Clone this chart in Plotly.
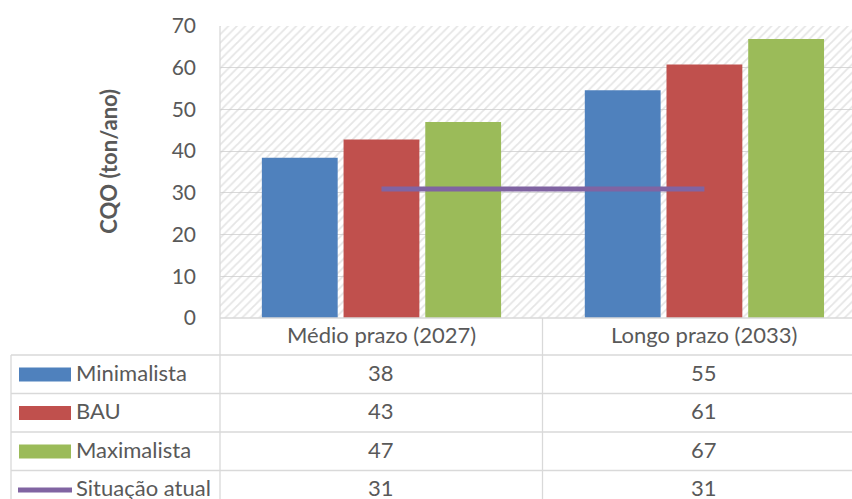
import plotly.graph_objects as go

# ---- data ----
categories = ["Médio prazo (2027)", "Longo prazo (2033)"]
minimalista = [38.4, 54.6]
bau = [42.8, 60.8]
maximalista = [47.0, 66.9]
situacao_atual = [30.9, 30.9]
series_names = ["Minimalista", "BAU", "Maximalista", "Situação atual"]
y_ticks = [0, 10, 20, 30, 40, 50, 60, 70]

colors = ["#4F81BD", "#C0504D", "#9BBB59", "#8064A2"]
TXT = "#595959"
GRID = "#D9D9D9"
FONT = "Lato"
FS = 21
FS_T = 22

W, H = 852, 499
L, R, T, B = 220, 0, 26, 181
PX0, PX1 = L, W - R
PY0, PY1 = T, H - B  # top, bottom of plot area


def px(x):
    return (x - PX0) / (PX1 - PX0)


def py(y):
    return (PY1 - y) / (PY1 - PY0)


fig = go.Figure()

# hatched plot-area background (base subplot)
fig.add_trace(go.Bar(
    x=[0.5], y=[1], width=[1], xaxis="x", yaxis="y",
    marker=dict(color="rgba(0,0,0,0)", line=dict(width=0),
                pattern=dict(shape="/", size=6, solidity=0.3,
                             fgcolor="#CCCCCC", bgcolor="rgba(0,0,0,0)")),
    hoverinfo="skip", showlegend=False,
))

values = [minimalista, bau, maximalista]
for name, vals, col in zip(series_names[:3], values, colors[:3]):
    fig.add_trace(go.Bar(x=categories, y=vals, name=name, xaxis="x2", yaxis="y2",
                         marker=dict(color=col, line=dict(width=0)), showlegend=False))

fig.add_trace(go.Scatter(x=categories, y=situacao_atual, name=series_names[3],
                         xaxis="x2", yaxis="y2", mode="lines",
                         line=dict(color=colors[3], width=5), showlegend=False))

# ---- data table (annotations from data) ----
ann = []
header_y = 335
row_y0, row_h = 374.5, 38.5
TXT_SHIFT = -2.5
for c in categories:
    ann.append(dict(x=c, xref="x2", y=py(header_y), yref="paper", text=c,
                    xanchor="center", yanchor="middle",
                    showarrow=False, font=dict(family=FONT, size=FS_T, color=TXT)))
all_series = [minimalista, bau, maximalista, situacao_atual]
for i, (name, vals) in enumerate(zip(series_names, all_series)):
    ry = row_y0 + row_h * i
    for c, v in zip(categories, vals):
        ann.append(dict(x=c, xref="x2", y=py(ry + TXT_SHIFT), yref="paper", text=f"{v:.0f}",
                        xanchor="center", yanchor="middle",
                        showarrow=False, font=dict(family=FONT, size=FS_T, color=TXT)))
    ann.append(dict(x=px(74), xref="paper", xanchor="left", y=py(ry + TXT_SHIFT), yref="paper",
                    yanchor="middle", text=name, showarrow=False,
                    font=dict(family=FONT, size=FS_T, color=TXT)))

ann.append(dict(x=px(109), xref="paper", y=py(161.7), yref="paper",
                xanchor="center", yanchor="middle",
                text="<b>CQO (ton/ano)</b>", textangle=-90, showarrow=False,
                font=dict(family=FONT, size=FS_T, color=TXT)))

shapes = []
lw = 1.3


def hline(y, x0, x1):
    shapes.append(dict(type="line", xref="paper", yref="paper", x0=px(x0), x1=px(x1),
                       y0=py(y), y1=py(y), line=dict(color=GRID, width=lw)))


def vline(x, y0, y1):
    shapes.append(dict(type="line", xref="paper", yref="paper", x0=px(x), x1=px(x),
                       y0=py(y0), y1=py(y1), line=dict(color=GRID, width=lw)))


hline(PY1, 220, W)
for yy in [355, 393.5, 432, 470.5]:
    hline(yy, 11, W)
vline(11, 355, H)
vline(220, PY0, H)
vline(542.5, PY1, H)

# legend keys
for i, col in enumerate(colors):
    ry = row_y0 + row_h * i
    if i < 3:
        shapes.append(dict(type="rect", xref="paper", yref="paper",
                           x0=px(19), x1=px(71), y0=py(ry - 7), y1=py(ry + 7),
                           fillcolor=col, line=dict(width=0)))
    else:
        shapes.append(dict(type="line", xref="paper", yref="paper",
                           x0=px(18), x1=px(72), y0=py(ry), y1=py(ry),
                           line=dict(color=col, width=5)))

fig.update_layout(
    width=W, height=H,
    margin=dict(l=L, r=R, t=T, b=B, autoexpand=False),
    paper_bgcolor="white", plot_bgcolor="white",
    barmode="group", bargap=0.241, bargroupgap=0.072,
    xaxis=dict(range=[0, 1], visible=False, fixedrange=True),
    yaxis=dict(range=[0, 1], visible=False, fixedrange=True),
    xaxis2=dict(type="category", overlaying="x", range=[-0.5, 1.457],
                showticklabels=False, showgrid=False, zeroline=False, showline=False,
                ticks=""),
    yaxis2=dict(overlaying="y", side="left", range=[0, 70], tickvals=y_ticks,
                showgrid=True, gridcolor=GRID, gridwidth=lw, zeroline=False,
                showline=False, ticks="", ticklabelstandoff=23,
                tickfont=dict(family=FONT, size=FS, color=TXT)),
    annotations=ann, shapes=shapes,
    showlegend=False,
    font=dict(family=FONT, color=TXT),
)

fig.write_html("out.html", config={"displayModeBar": False},
               post_script="document.body.style.margin='0';document.body.style.overflow='hidden';")
